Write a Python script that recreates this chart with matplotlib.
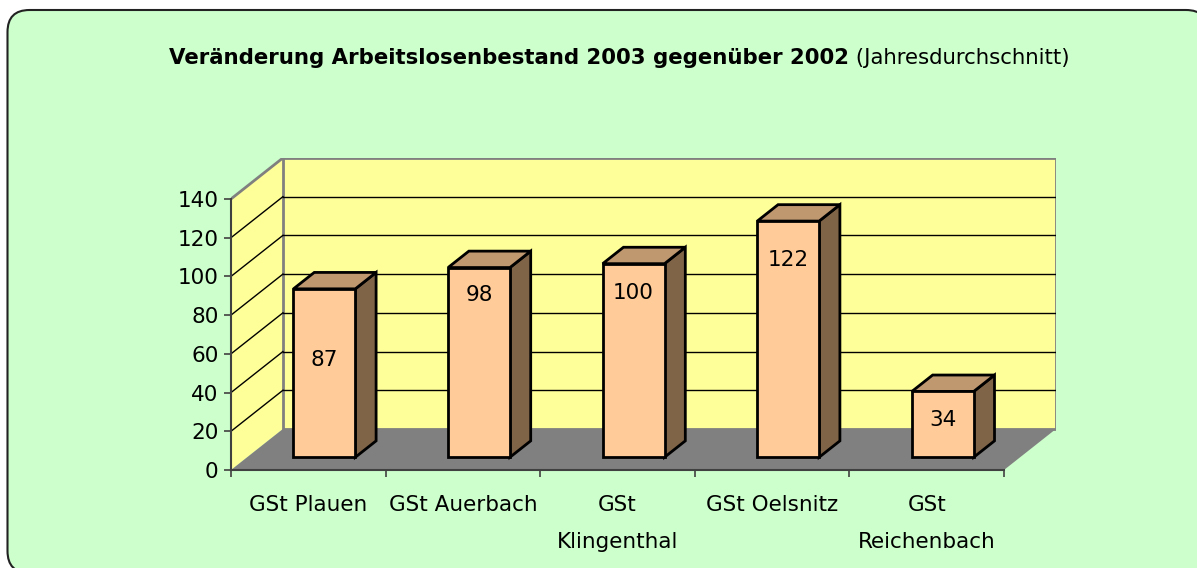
import matplotlib
matplotlib.use("Agg")
import matplotlib.pyplot as plt
from matplotlib.patches import Polygon, FancyBboxPatch

# data
categories = ["GSt Plauen", "GSt Auerbach", "GSt\nKlingenthal", "GSt Oelsnitz", "GSt\nReichenbach"]
values = [87, 98, 100, 122, 34]
label_heights = [50, 84, 85, 102, 19]  # where the value labels sit inside the bars
y_ticks = [0, 20, 40, 60, 80, 100, 120, 140]
title_bold = "Veränderung Arbeitslosenbestand 2003 gegenüber 2002"
title_rest = " (Jahresdurchschnitt)"

W, H, DPI = 1197, 568, 100
FONT = "DejaVu Sans"

DEPTH_X = 0.336   # full depth, in category units
DEPTH_Y = 21.2    # full depth, in value units
BAR_W = 0.4
BAR_D0, BAR_D1 = 0.31, 0.71
YMAX = 140

GREEN = "#CCFFCC"
YELLOW = "#FFFF99"
FLOOR = "#808080"
FACE = "#FFCC99"
TOP = "#C09870"
SIDE = "#806448"


def proj(x, y, d):
    # front plane point pushed back by depth d (0..1)
    return (x + d * DEPTH_X, y + d * DEPTH_Y)


fig = plt.figure(figsize=(W / DPI, H / DPI), dpi=DPI, facecolor="white")

# rounded green frame, in inches so the corners stay round
frame = FancyBboxPatch((7.5 / DPI, -5 / DPI), (1208 - 7.5) / DPI, (H - 10 + 5) / DPI,
                       boxstyle="round,pad=0,rounding_size=0.22",
                       transform=fig.dpi_scale_trans, facecolor=GREEN,
                       edgecolor="#222222", linewidth=1.5, zorder=-5)
fig.patches.append(frame)

n = len(categories)
px_per_cat = 154.6
px_per_val = 1.936
ax = fig.add_axes([231 / W, (H - 470) / H,
                   (n + DEPTH_X) * px_per_cat / W, (YMAX + DEPTH_Y) * px_per_val / H])
ax.set_zorder(1)
ax.set_xlim(0, n + DEPTH_X)
ax.set_ylim(0, YMAX + DEPTH_Y)
ax.patch.set_alpha(0)

# walls and floor
side_wall = [proj(0, 0, 0), proj(0, YMAX, 0), proj(0, YMAX, 1), proj(0, 0, 1)]
ax.add_patch(Polygon(side_wall, closed=True, facecolor=YELLOW, edgecolor="none", zorder=1))
back_wall = [proj(0, 0, 1), proj(n, 0, 1), proj(n, YMAX, 1), proj(0, YMAX, 1)]
ax.add_patch(Polygon(back_wall, closed=True, facecolor=YELLOW, edgecolor="#808080",
                     linewidth=2, zorder=1))
floor = [proj(0, 0, 0), proj(n, 0, 0), proj(n, 0, 1), proj(0, 0, 1)]
ax.add_patch(Polygon(floor, closed=True, facecolor=FLOOR, edgecolor="none", zorder=1.6))

# grid lines on both walls
for v in y_ticks[1:]:
    a, b = proj(0, v, 1), proj(n, v, 1)
    if v < YMAX:
        ax.plot([a[0], b[0]], [a[1], b[1]], color="black", lw=1, zorder=1.5)
        c = proj(0, v, 0)
        ax.plot([c[0], a[0]], [c[1], a[1]], color="black", lw=1, zorder=1.5)
top_edge = [proj(0, YMAX, 0), proj(0, YMAX, 1)]
ax.plot([p[0] for p in top_edge], [p[1] for p in top_edge], color="#808080", lw=2, zorder=1.5)

# bars
for i, v in enumerate(values):
    x0 = i + 0.5 - BAR_W / 2
    x1 = i + 0.5 + BAR_W / 2
    front = [proj(x0, 0, BAR_D0), proj(x1, 0, BAR_D0), proj(x1, v, BAR_D0), proj(x0, v, BAR_D0)]
    top = [proj(x0, v, BAR_D0), proj(x1, v, BAR_D0), proj(x1, v, BAR_D1), proj(x0, v, BAR_D1)]
    side = [proj(x1, 0, BAR_D0), proj(x1, 0, BAR_D1), proj(x1, v, BAR_D1), proj(x1, v, BAR_D0)]
    for poly, col in ((side, SIDE), (top, TOP), (front, FACE)):
        ax.add_patch(Polygon(poly, closed=True, facecolor=col, edgecolor="black",
                             linewidth=2, joinstyle="miter", zorder=3))
    lx, ly = proj(i + 0.5, label_heights[i], BAR_D0)
    ax.text(lx, ly, str(v), ha="center", va="center", fontsize=15.5,
            family=FONT, color="black", zorder=4)

# axes lines and ticks
for s in ("top", "right"):
    ax.spines[s].set_visible(False)
ax.spines["left"].set_bounds(0, YMAX)
ax.spines["bottom"].set_bounds(0, n)
for s in ("left", "bottom"):
    ax.spines[s].set_color("#404040")
    ax.spines[s].set_linewidth(1.5)
    ax.spines[s].set_zorder(2.5)

ax.set_yticks(y_ticks)
ax.set_yticklabels([str(t) for t in y_ticks], family=FONT, fontsize=15.5)
ax.tick_params(axis="y", direction="out", length=5, width=1.2, pad=4, color="#404040")

ax.set_xticks(range(n + 1))
ax.set_xticklabels([])
ax.set_xticks([i + 0.5 for i in range(n)], minor=True)
ax.set_xticklabels(categories, minor=True, family=FONT, fontsize=15.5, linespacing=2.05)
ax.tick_params(axis="x", which="major", direction="out", length=5, width=1.2, color="#404040")
ax.tick_params(axis="x", which="minor", length=0, pad=18)

# title: bold part + plain part on one line
t1 = fig.text(0, 0, title_bold, fontsize=15.3, fontweight="bold", family=FONT,
              ha="left", va="baseline")
t2 = fig.text(0, 0, title_rest, fontsize=15.3, family=FONT, ha="left", va="baseline")
fig.canvas.draw()
r = fig.canvas.get_renderer()
w1 = t1.get_window_extent(r).width
w2 = t2.get_window_extent(r).width
x_start = 619 - (w1 + w2) / 2
base = H - 64
t1.set_position((x_start / W, base / H))
t2.set_position(((x_start + w1) / W, base / H))

fig.savefig("out.png", dpi=DPI, facecolor="white")
